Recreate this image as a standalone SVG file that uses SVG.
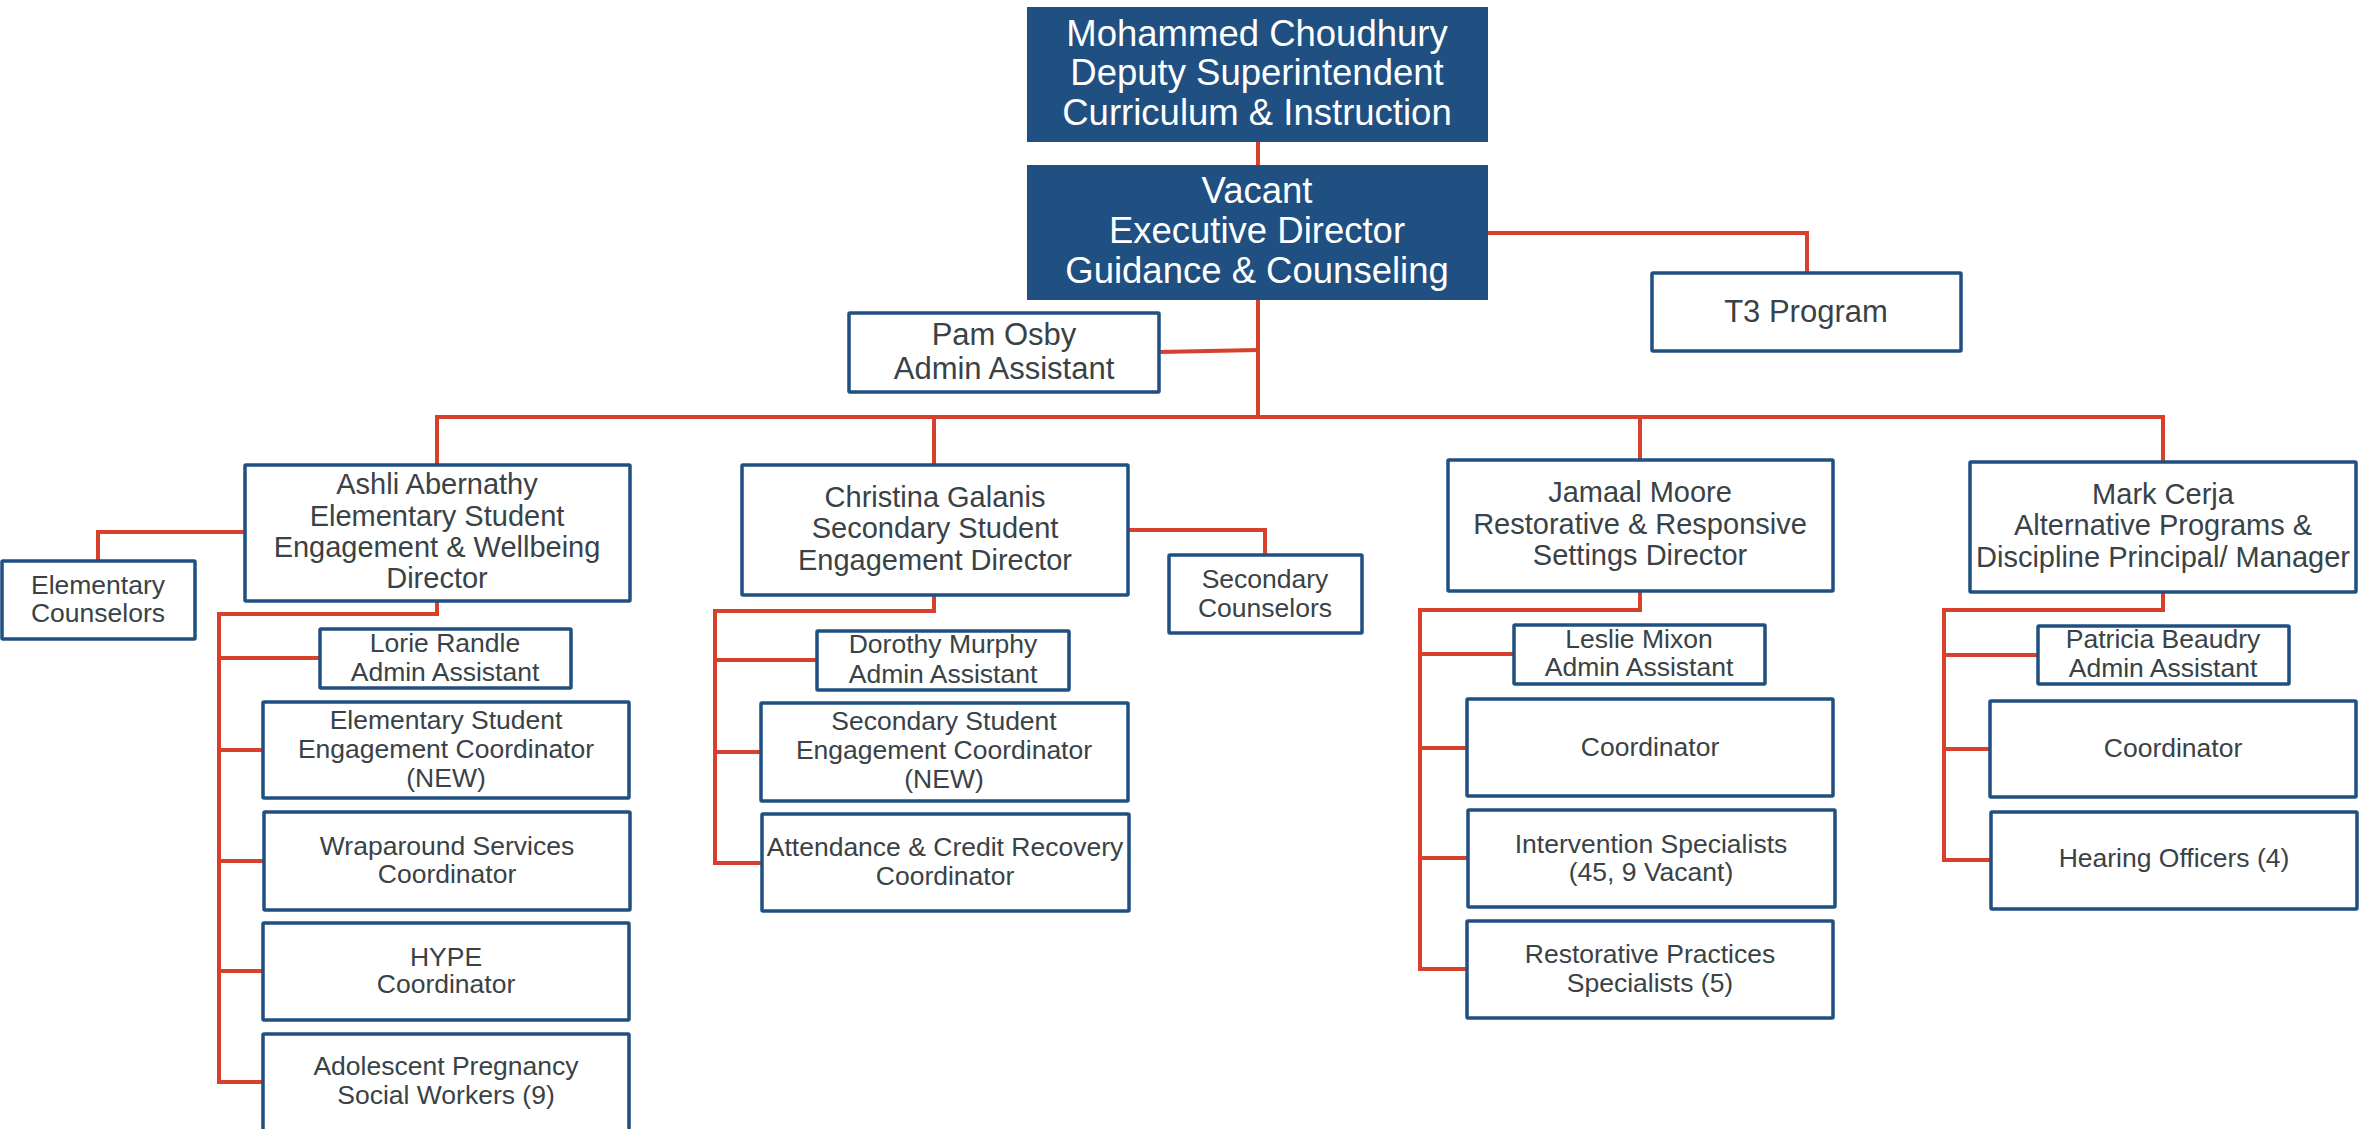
<svg xmlns="http://www.w3.org/2000/svg" width="2377" height="1129" viewBox="0 0 2377 1129">
<style>
.bx{fill:#ffffff;stroke:#1f5081;stroke-width:3.5}
.hd{fill:#1f5081;stroke:none}
.c{fill:none;stroke:#d7402a;stroke-width:4;stroke-linejoin:miter}
text{font-family:"Liberation Sans",Arial,sans-serif;text-anchor:middle;fill:#394246}
.w{fill:#ffffff;font-size:36.5px}
.t31{font-size:31px}
.t29{font-size:29px}
.t26{font-size:26.5px}
</style>
<rect width="2377" height="1129" fill="#ffffff"/>
<g id="connectors">
<polyline class="c" points="1258,142 1258,165"/>
<polyline class="c" points="1258,300 1258,417"/>
<polyline class="c" points="1159,352 1258,350"/>
<polyline class="c" points="1488,233 1807,233 1807,273"/>
<polyline class="c" points="437,465 437,417 2163,417 2163,462"/>
<polyline class="c" points="934,417 934,465"/>
<polyline class="c" points="1640,417 1640,460"/>
<polyline class="c" points="245,532 98,532 98,561"/>
<polyline class="c" points="437,601 437,614 219,614 219,1082 263,1082"/>
<polyline class="c" points="219,658 320,658"/>
<polyline class="c" points="219,750 263,750"/>
<polyline class="c" points="219,861 264,861"/>
<polyline class="c" points="219,971 263,971"/>
<polyline class="c" points="1128,530 1265,530 1265,555"/>
<polyline class="c" points="934,595 934,611 715,611 715,863 762,863"/>
<polyline class="c" points="715,660 817,660"/>
<polyline class="c" points="715,752 761,752"/>
<polyline class="c" points="1640,591 1640,610 1420,610 1420,969 1467,969"/>
<polyline class="c" points="1420,654 1514,654"/>
<polyline class="c" points="1420,748 1467,748"/>
<polyline class="c" points="1420,858 1468,858"/>
<polyline class="c" points="2163,592 2163,610 1944,610 1944,860 1991,860"/>
<polyline class="c" points="1944,655 2038,655"/>
<polyline class="c" points="1944,749 1990,749"/>
</g>
<g id="choudhury">
<rect class="hd" x="1027" y="7" width="461" height="135"/>
<text class="w" x="1257" y="46">Mohammed Choudhury</text>
<text class="w" x="1257" y="85">Deputy Superintendent</text>
<text class="w" x="1257" y="125">Curriculum &amp; Instruction</text>
</g>
<g id="vacant">
<rect class="hd" x="1027" y="165" width="461" height="135"/>
<text class="w" x="1257" y="203">Vacant</text>
<text class="w" x="1257" y="243">Executive Director</text>
<text class="w" x="1257" y="283">Guidance &amp; Counseling</text>
</g>
<g id="osby">
<rect class="bx" x="849" y="313" width="310" height="79" rx="1"/>
<text class="t31" x="1004" y="345">Pam Osby</text>
<text class="t31" x="1004" y="379">Admin Assistant</text>
</g>
<g id="t3">
<rect class="bx" x="1652" y="273" width="309" height="78" rx="1"/>
<text class="t31" x="1806" y="322">T3 Program</text>
</g>
<g id="abernathy">
<rect class="bx" x="245" y="465" width="385" height="136" rx="1"/>
<text class="t29" x="437" y="494">Ashli Abernathy</text>
<text class="t29" x="437" y="526">Elementary Student</text>
<text class="t29" x="437" y="557">Engagement &amp; Wellbeing</text>
<text class="t29" x="437" y="588">Director</text>
</g>
<g id="elem-counselors">
<rect class="bx" x="2" y="561" width="193" height="78" rx="1"/>
<text class="t26" x="98" y="594">Elementary</text>
<text class="t26" x="98" y="622">Counselors</text>
</g>
<g id="randle">
<rect class="bx" x="320" y="629" width="251" height="59" rx="1"/>
<text class="t26" x="445" y="652">Lorie Randle</text>
<text class="t26" x="445" y="681">Admin Assistant</text>
</g>
<g id="elem-coord">
<rect class="bx" x="263" y="702" width="366" height="96" rx="1"/>
<text class="t26" x="446" y="729">Elementary Student</text>
<text class="t26" x="446" y="758">Engagement Coordinator</text>
<text class="t26" x="446" y="787">(NEW)</text>
</g>
<g id="wraparound">
<rect class="bx" x="264" y="812" width="366" height="98" rx="1"/>
<text class="t26" x="447" y="855">Wraparound Services</text>
<text class="t26" x="447" y="883">Coordinator</text>
</g>
<g id="hype">
<rect class="bx" x="263" y="923" width="366" height="97" rx="1"/>
<text class="t26" x="446" y="966">HYPE</text>
<text class="t26" x="446" y="993">Coordinator</text>
</g>
<g id="adolescent">
<rect class="bx" x="263" y="1034" width="366" height="98" rx="1"/>
<text class="t26" x="446" y="1075">Adolescent Pregnancy</text>
<text class="t26" x="446" y="1104">Social Workers (9)</text>
</g>
<g id="galanis">
<rect class="bx" x="742" y="465" width="386" height="130" rx="1"/>
<text class="t29" x="935" y="507">Christina Galanis</text>
<text class="t29" x="935" y="538">Secondary Student</text>
<text class="t29" x="935" y="570">Engagement Director</text>
</g>
<g id="sec-counselors">
<rect class="bx" x="1169" y="555" width="193" height="78" rx="1"/>
<text class="t26" x="1265" y="588">Secondary</text>
<text class="t26" x="1265" y="617">Counselors</text>
</g>
<g id="murphy">
<rect class="bx" x="817" y="631" width="252" height="59" rx="1"/>
<text class="t26" x="943" y="653">Dorothy Murphy</text>
<text class="t26" x="943" y="683">Admin Assistant</text>
</g>
<g id="sec-coord">
<rect class="bx" x="761" y="703" width="367" height="98" rx="1"/>
<text class="t26" x="944" y="730">Secondary Student</text>
<text class="t26" x="944" y="759">Engagement Coordinator</text>
<text class="t26" x="944" y="788">(NEW)</text>
</g>
<g id="attendance">
<rect class="bx" x="762" y="814" width="367" height="97" rx="1"/>
<text class="t26" x="945" y="856">Attendance &amp; Credit Recovery</text>
<text class="t26" x="945" y="885">Coordinator</text>
</g>
<g id="moore">
<rect class="bx" x="1448" y="460" width="385" height="131" rx="1"/>
<text class="t29" x="1640" y="502">Jamaal Moore</text>
<text class="t29" x="1640" y="534">Restorative &amp; Responsive</text>
<text class="t29" x="1640" y="565">Settings Director</text>
</g>
<g id="mixon">
<rect class="bx" x="1514" y="625" width="251" height="59" rx="1"/>
<text class="t26" x="1639" y="648">Leslie Mixon</text>
<text class="t26" x="1639" y="676">Admin Assistant</text>
</g>
<g id="rr-coord">
<rect class="bx" x="1467" y="699" width="366" height="97" rx="1"/>
<text class="t26" x="1650" y="756">Coordinator</text>
</g>
<g id="intervention">
<rect class="bx" x="1468" y="810" width="367" height="97" rx="1"/>
<text class="t26" x="1651" y="853">Intervention Specialists</text>
<text class="t26" x="1651" y="881">(45, 9 Vacant)</text>
</g>
<g id="restorative">
<rect class="bx" x="1467" y="921" width="366" height="97" rx="1"/>
<text class="t26" x="1650" y="963">Restorative Practices</text>
<text class="t26" x="1650" y="992">Specialists (5)</text>
</g>
<g id="cerja">
<rect class="bx" x="1970" y="462" width="386" height="130" rx="1"/>
<text class="t29" x="2163" y="504">Mark Cerja</text>
<text class="t29" x="2163" y="535">Alternative Programs &amp;</text>
<text class="t29" x="2163" y="567">Discipline Principal/ Manager</text>
</g>
<g id="beaudry">
<rect class="bx" x="2038" y="626" width="251" height="58" rx="1"/>
<text class="t26" x="2163" y="648">Patricia Beaudry</text>
<text class="t26" x="2163" y="677">Admin Assistant</text>
</g>
<g id="ap-coord">
<rect class="bx" x="1990" y="701" width="366" height="96" rx="1"/>
<text class="t26" x="2173" y="757">Coordinator</text>
</g>
<g id="hearing">
<rect class="bx" x="1991" y="812" width="366" height="97" rx="1"/>
<text class="t26" x="2174" y="867">Hearing Officers (4)</text>
</g>
</svg>
